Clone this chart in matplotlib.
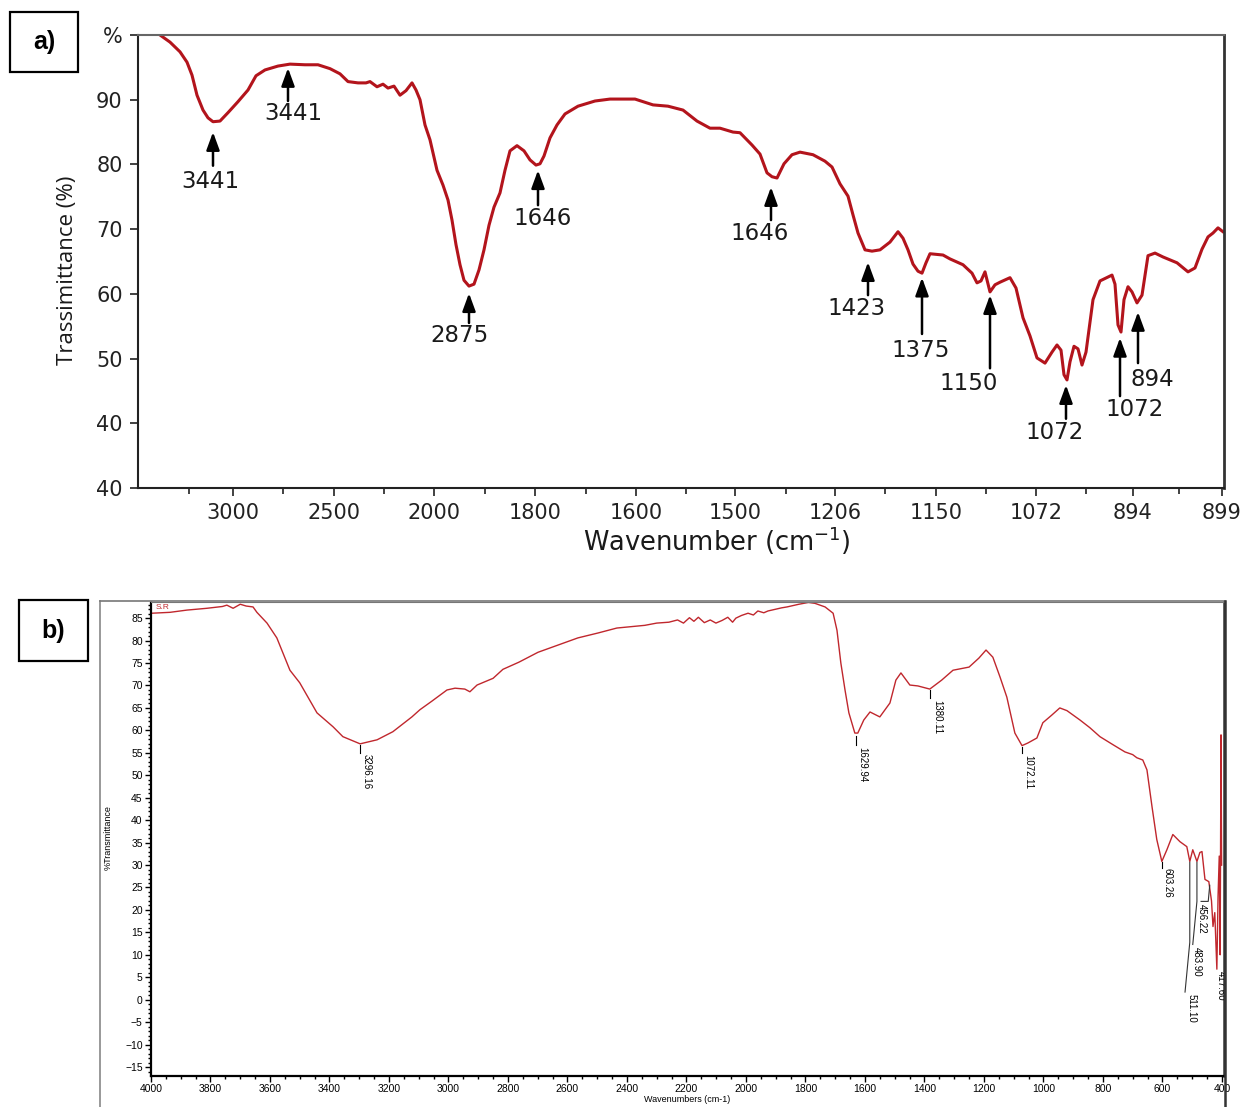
import numpy as np
import matplotlib.pyplot as plt
from matplotlib.patches import Rectangle
from matplotlib.lines import Line2D

# ---- panel a) : x axis is a band index, tick labels copied from the source figure
a_pos = [0.22, 0.32, 0.42, 0.49, 0.54, 0.59, 0.65, 0.70, 0.75, 0.82, 0.90, 1.00, 1.10,
         1.18, 1.27, 1.40, 1.52, 1.67, 1.80, 1.92, 2.02, 2.10, 2.20, 2.28, 2.32, 2.39,
         2.45, 2.50, 2.56, 2.62, 2.68, 2.74, 2.78, 2.82, 2.87, 2.92, 2.99, 3.05, 3.10,
         3.14, 3.18, 3.22, 3.26, 3.31, 3.36, 3.41, 3.46, 3.51, 3.56, 3.62, 3.67, 3.72,
         3.79, 3.86, 3.92, 3.98, 4.02, 4.06, 4.12, 4.19, 4.27, 4.40, 4.57, 4.72, 4.97,
         5.15, 5.30, 5.45, 5.59, 5.72, 5.82, 5.95, 6.02, 6.14, 6.22, 6.29, 6.34, 6.39,
         6.46, 6.54, 6.62, 6.75, 6.87, 6.94, 7.02, 7.10, 7.15, 7.20, 7.27, 7.34, 7.42,
         7.52, 7.60, 7.65, 7.70, 7.75, 7.80, 7.84, 7.88, 7.92, 8.05, 8.12, 8.25, 8.34,
         8.39, 8.43, 8.47, 8.52, 8.57, 8.62, 8.72, 8.78, 8.85, 8.92, 8.99, 9.07, 9.14,
         9.19, 9.23, 9.26, 9.29, 9.32, 9.36, 9.40, 9.44, 9.48, 9.55, 9.62, 9.74, 9.77,
         9.80, 9.83, 9.86, 9.90, 9.94, 9.99, 10.04, 10.10, 10.17, 10.25, 10.39, 10.50,
         10.57, 10.64, 10.70, 10.75, 10.80, 10.85]
a_trans = [100.0, 98.9, 97.4, 95.8, 93.8, 90.7, 88.4, 87.2, 86.6, 86.7, 88.0, 89.7, 91.5,
           93.7, 94.6, 95.2, 95.5, 95.4, 95.4, 94.8, 94.0, 92.8, 92.6, 92.6, 92.8, 92.0,
           92.4, 91.8, 92.1, 90.7, 91.4, 92.6, 91.5, 90.0, 86.1, 83.8, 79.1, 76.8, 74.5,
           71.4, 67.6, 64.5, 62.1, 61.2, 61.5, 63.7, 66.8, 70.6, 73.4, 75.6, 79.1, 82.1,
           82.9, 82.1, 80.7, 79.9, 80.1, 81.3, 84.1, 86.1, 87.8, 89.0, 89.8, 90.1, 90.1,
           89.2, 89.0, 88.4, 86.7, 85.6, 85.6, 85.0, 84.9, 83.0, 81.6, 78.7, 78.1, 77.9,
           80.1, 81.5, 81.9, 81.5, 80.5, 79.6, 77.0, 75.1, 72.2, 69.4, 66.8, 66.6, 66.8,
           68.0, 69.6, 68.6, 66.8, 64.6, 63.5, 63.2, 64.8, 66.2, 66.0, 65.4, 64.5, 63.2,
           61.7, 62.0, 63.4, 60.3, 61.4, 61.8, 62.5, 60.9, 56.3, 53.5, 50.1, 49.3, 51.0,
           52.1, 51.3, 47.5, 46.7, 49.5, 51.9, 51.5, 49.0, 51.0, 59.1, 62.0, 62.9, 61.5,
           55.2, 54.1, 59.1, 61.1, 60.3, 58.6, 59.8, 65.9, 66.3, 65.7, 64.8, 63.4,
           64.0, 66.9, 68.8, 69.4, 70.2, 69.6]
a_ticks = [0.95, 1.96, 2.96, 3.97, 4.98, 5.97, 6.97, 7.98, 8.98, 9.95, 10.84]
a_ticklabels = ['3000', '2500', '2000', '1800', '1600', '1500', '1206', '1150', '1072', '894', '899']
a_minor = [0.51, 1.45, 2.46, 3.47, 4.48, 5.48, 6.48, 7.47, 8.48, 9.48, 10.41]
a_yticks = [30, 40, 50, 60, 70, 80, 90, 100]
a_yticklabels = ['40', '40', '50', '60', '70', '80', '90', '%']

a_peaks = ['3441', '3441', '2875', '1646', '1646', '1423', '1375', '1150', '1072', '1072', '894']
a_peak_x = [0.75, 1.50, 3.31, 4.00, 6.33, 7.30, 7.84, 8.52, 9.28, 9.82, 10.00]
a_tip = [85.0, 94.9, 60.1, 79.1, 76.5, 64.9, 62.5, 59.8, 45.9, 53.2, 57.2]
a_tail = [79.8, 89.8, 55.5, 73.7, 71.4, 59.8, 53.8, 48.5, 40.7, 44.2, 49.3]
a_text_x = [0.72, 1.55, 3.22, 4.05, 6.22, 7.19, 7.83, 8.31, 9.17, 9.97, 10.14]
a_text_y = [77.3, 87.8, 53.5, 71.6, 69.4, 57.7, 51.3, 46.1, 38.5, 42.1, 46.8]

# ---- panel b) : instrument printout
b_wn = [3997, 3936, 3879, 3812, 3760, 3745, 3724, 3700, 3680, 3657, 3644, 3610, 3577,
        3533, 3500, 3442, 3388, 3355, 3297, 3240, 3187, 3123, 3096, 3056, 3005, 2978,
        2945, 2928, 2904, 2850, 2817, 2763, 2699, 2632, 2565, 2497, 2434, 2340, 2300,
        2259, 2230, 2210, 2190, 2175, 2160, 2140, 2120, 2101, 2080, 2061, 2045, 2034,
        2015, 1993, 1975, 1960, 1940, 1926, 1900, 1880, 1862, 1822, 1790, 1768, 1734,
        1707, 1694, 1681, 1667, 1654, 1634, 1624, 1604, 1583, 1550, 1516, 1496, 1479,
        1449, 1422, 1382, 1342, 1304, 1250, 1217, 1193, 1170, 1146, 1123, 1096, 1072,
        1052, 1022, 1002, 972, 945, 921, 877, 844, 810, 766, 726, 700, 686, 666, 652,
        635, 619, 602, 585, 565, 541, 518, 508, 498, 484, 474, 467, 457, 444, 435, 430,
        424, 417, 413, 409, 406, 403, 401]
b_trans = [86.1, 86.3, 86.8, 87.2, 87.6, 87.9, 87.2, 88.1, 87.7, 87.5, 86.3, 83.9, 80.6,
           73.4, 70.6, 63.9, 60.8, 58.6, 57.0, 57.9, 59.7, 63.0, 64.6, 66.5, 69.0, 69.4,
           69.2, 68.6, 70.1, 71.6, 73.6, 75.2, 77.4, 79.0, 80.6, 81.7, 82.8, 83.4, 83.9,
           84.1, 84.6, 83.9, 85.1, 84.3, 85.2, 84.0, 84.6, 83.9, 84.5, 85.2, 84.1, 85.0,
           85.6, 86.1, 85.7, 86.6, 86.2, 86.6, 87.0, 87.3, 87.5, 88.1, 88.5, 88.3, 87.5,
           86.1, 82.3, 75.0, 69.0, 63.9, 59.4, 59.4, 62.3, 64.1, 63.0, 66.1, 71.2, 72.8,
           70.1, 69.9, 69.2, 71.2, 73.4, 74.1, 76.1, 77.9, 76.3, 71.9, 67.4, 59.4, 56.6,
           57.2, 58.3, 61.7, 63.4, 65.0, 64.4, 62.3, 60.6, 58.6, 56.8, 55.2, 54.6, 53.9,
           53.4, 51.2, 43.0, 35.7, 30.8, 33.4, 36.8, 35.2, 34.1, 30.8, 33.4, 30.8, 32.8,
           33.0, 26.8, 26.3, 22.0, 16.3, 19.4, 6.8, 23.0, 32.0, 10.0, 59.0, 30.0]
b_peaks = ['3296.16', '1629.94', '1380.11', '1072.11', '603.26']
b_peak_wn = [3296, 1630, 1380, 1072, 603]
b_peak_top = [56.8, 58.8, 69.0, 56.3, 30.6]
b_peak_bot = [55.0, 56.8, 67.2, 55.0, 29.4]
b_text_wn = [3274, 1610, 1358, 1052, 582]
b_text_y = [54.8, 56.3, 66.8, 54.6, 29.4]
# crowded low-wavenumber peaks have bent leader lines
b_lead_labels = ['511.10', '483.90', '456.22', '417.60']
b_lead_wn = [[508, 508, 524], [484, 484, 498], [441, 446, 470], [417, 417, 417]]
b_lead_y = [[30.6, 12.8, 1.7], [30.6, 21.9, 12.3], [25.5, 21.9, 21.9], [6.8, 6.8, 6.8]]
b_lead_text_wn = [501, 484, 467, 403]
b_lead_text_y = [1.2, 11.7, 21.4, 6.3]

red_a = '#b3141c'
red_b = '#c0272d'

fig = plt.figure(figsize=(12.42, 11.07), dpi=100)
plt.rcParams['font.family'] = ['DejaVu Sans']
wide = ['DejaVu Sans']

# ------------------------------------------------------------------ panel a
ax = fig.add_axes([138 / 1242, 1 - 488 / 1107, 1086 / 1242, 453 / 1107])
ax.plot(a_pos, a_trans, color=red_a, lw=2.2)
ax.set_xlim(0, 10.86)
ax.set_ylim(30, 100)
ax.set_xticks(a_ticks)
ax.set_xticklabels(a_ticklabels)
ax.set_xticks(a_minor, minor=True)
ax.set_yticks(a_yticks)
ax.set_yticklabels(a_yticklabels)
ax.tick_params(axis='both', which='major', labelsize=15, length=6, width=1.3,
               color='#333333', pad=5, labelcolor='#222222')
ax.tick_params(axis='x', which='minor', length=4, width=1.3, color='#333333')
for s in ['left', 'bottom']:
    ax.spines[s].set_linewidth(1.5)
    ax.spines[s].set_color('#222222')
ax.spines['top'].set_color('#666666')
ax.spines['top'].set_linewidth(1.5)
ax.spines['right'].set_color('#333333')
ax.spines['right'].set_linewidth(2)

for lab, x, tip, tail, tx, ty in zip(a_peaks, a_peak_x, a_tip, a_tail, a_text_x, a_text_y):
    ax.annotate('', xy=(x, tip), xytext=(x, tail),
                arrowprops=dict(arrowstyle='-|>,head_length=0.6,head_width=0.22',
                                color='black', lw=1.8, mutation_scale=18,
                                shrinkA=0, shrinkB=0))
    ax.text(tx, ty, lab, ha='center', va='center', fontsize=16.5, color='#1a1a1a')

fig.text(717 / 1242, 1 - 541 / 1107, 'Wavenumber (cm$^{-1}$)', ha='center', va='center',
         fontsize=18.5, color='#1a1a1a')
fig.text(68 / 1242, 1 - 270 / 1107, 'Trassimittance (%)', ha='center', va='center',
         rotation=90, fontsize=16, family=['Open Sans', 'DejaVu Sans'], color='#1a1a1a')

fig.add_artist(Rectangle((10 / 1242, 1 - 72 / 1107), 68 / 1242, 60 / 1107,
                         transform=fig.transFigure, fill=False, lw=1.6, ec='black'))
fig.text(44 / 1242, 1 - 42 / 1107, 'a)', ha='center', va='center', fontsize=18,
         fontweight='bold', family=['Liberation Sans', 'DejaVu Sans'])

# ------------------------------------------------------------------ panel b
bx = fig.add_axes([151 / 1242, 1 - 1076 / 1107, 1073 / 1242, 474 / 1107])
bx.plot(b_wn, b_trans, color=red_b, lw=1.0)
bx.set_xlim(4000, 393)
bx.set_ylim(-17, 88.6)
bx.set_xticks(np.arange(4000, 399, -200))
bx.set_xticks(np.arange(4000, 399, -50), minor=True)
bx.set_yticks(np.arange(-15, 86, 5))
bx.set_yticks(np.arange(-16, 89, 1), minor=True)
small = ['Liberation Sans', 'DejaVu Sans']
for t in bx.get_xticklabels() + bx.get_yticklabels():
    t.set_family(small)
bx.tick_params(axis='both', which='major', labelsize=7.5, length=4, width=1, pad=2)
bx.tick_params(axis='both', which='minor', length=2, width=1)
for s in ['left', 'bottom']:
    bx.spines[s].set_linestyle((0, (1, 1)))
    bx.spines[s].set_linewidth(1.6)
bx.spines['top'].set_color('#777777')
bx.spines['right'].set_color('#333333')
bx.spines['right'].set_linewidth(1.8)

for lab, w, top, bot, tw, ty in zip(b_peaks, b_peak_wn, b_peak_top, b_peak_bot,
                                    b_text_wn, b_text_y):
    bx.plot([w, w], [top, bot], color='black', lw=0.8)
    bx.text(tw, ty, lab, rotation=270, ha='center', va='top', fontsize=7, family=small)
for lab, lw_, ly, tw, ty in zip(b_lead_labels, b_lead_wn, b_lead_y, b_lead_text_wn,
                                b_lead_text_y):
    bx.plot(lw_, ly, color='#333333', lw=0.8)
    bx.text(tw, ty, lab, rotation=270, ha='center', va='top', fontsize=7, family=small,
            clip_on=True)

bx.text(3985, 87.3, 'S.R', color=red_b, fontsize=6, family=small, va='center')
fig.text(108 / 1242, 1 - 838 / 1107, '%Transmittance', rotation=90, ha='center',
         va='center', fontsize=6.5, family=small)
fig.text(687 / 1242, 1 - 1100 / 1107, 'Wavenumbers (cm-1)', ha='center', va='center',
         fontsize=6.5, family=small)

# outer frame of the printout
fig.add_artist(Line2D([100 / 1242, 100 / 1242], [0, 1 - 601 / 1107],
                      transform=fig.transFigure, color='#888888', lw=1.2))
fig.add_artist(Line2D([100 / 1242, 1225 / 1242], [1 - 601 / 1107, 1 - 601 / 1107],
                      transform=fig.transFigure, color='#777777', lw=1.2))
fig.add_artist(Line2D([1225 / 1242, 1225 / 1242], [0, 1 - 601 / 1107],
                      transform=fig.transFigure, color='#333333', lw=1.8))

fig.add_artist(Rectangle((19 / 1242, 1 - 661 / 1107), 69 / 1242, 61 / 1107,
                         transform=fig.transFigure, fill=False, lw=1.6, ec='black'))
fig.text(53 / 1242, 1 - 631 / 1107, 'b)', ha='center', va='center', fontsize=18,
         fontweight='bold', family=['Liberation Sans', 'DejaVu Sans'])

fig.savefig('out.png', dpi=100)
